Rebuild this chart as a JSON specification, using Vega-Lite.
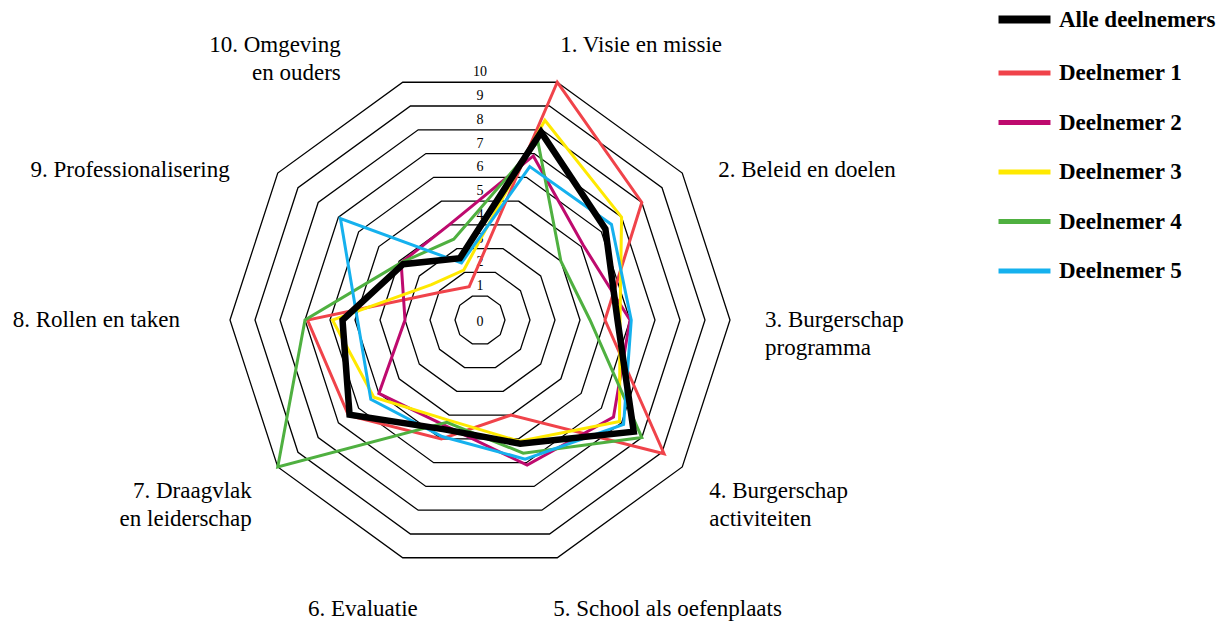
{
  "$schema": "https://vega.github.io/schema/vega-lite/v6.json",
  "width": 1231,
  "height": 625,
  "autosize": {"type": "none"},
  "padding": 0,
  "background": "white",
  "config": {"view": {"stroke": null}, "text": {"font": "Liberation Serif"}},
  "datasets": {
    "scores": [
      {"s": "Alle deelnemers", "k": 1, "v": 7.9}, {"s": "Alle deelnemers", "k": 2, "v": 6.2}, {"s": "Alle deelnemers", "k": 3, "v": 5.5}, {"s": "Alle deelnemers", "k": 4, "v": 7.6}, {"s": "Alle deelnemers", "k": 5, "v": 5.2},
      {"s": "Alle deelnemers", "k": 6, "v": 4.6}, {"s": "Alle deelnemers", "k": 7, "v": 6.45}, {"s": "Alle deelnemers", "k": 8, "v": 5.5}, {"s": "Alle deelnemers", "k": 9, "v": 3.8}, {"s": "Alle deelnemers", "k": 10, "v": 2.6},
      {"s": "Deelnemer 1", "k": 1, "v": 10}, {"s": "Deelnemer 1", "k": 2, "v": 8.0}, {"s": "Deelnemer 1", "k": 3, "v": 5.0}, {"s": "Deelnemer 1", "k": 4, "v": 9.1}, {"s": "Deelnemer 1", "k": 5, "v": 4.0},
      {"s": "Deelnemer 1", "k": 6, "v": 5.0}, {"s": "Deelnemer 1", "k": 7, "v": 6.5}, {"s": "Deelnemer 1", "k": 8, "v": 6.9}, {"s": "Deelnemer 1", "k": 9, "v": 1.9}, {"s": "Deelnemer 1", "k": 10, "v": 1.4},
      {"s": "Deelnemer 2", "k": 1, "v": 6.9}, {"s": "Deelnemer 2", "k": 2, "v": 5.1}, {"s": "Deelnemer 2", "k": 3, "v": 6.0}, {"s": "Deelnemer 2", "k": 4, "v": 6.6}, {"s": "Deelnemer 2", "k": 5, "v": 6.1},
      {"s": "Deelnemer 2", "k": 6, "v": 4.45}, {"s": "Deelnemer 2", "k": 7, "v": 5.0}, {"s": "Deelnemer 2", "k": 8, "v": 3.0}, {"s": "Deelnemer 2", "k": 9, "v": 3.9}, {"s": "Deelnemer 2", "k": 10, "v": 4.0},
      {"s": "Deelnemer 3", "k": 1, "v": 8.4}, {"s": "Deelnemer 3", "k": 2, "v": 7.0}, {"s": "Deelnemer 3", "k": 3, "v": 5.6}, {"s": "Deelnemer 3", "k": 4, "v": 6.9}, {"s": "Deelnemer 3", "k": 5, "v": 5.1},
      {"s": "Deelnemer 3", "k": 6, "v": 4.2}, {"s": "Deelnemer 3", "k": 7, "v": 5.25}, {"s": "Deelnemer 3", "k": 8, "v": 5.9}, {"s": "Deelnemer 3", "k": 9, "v": 2.4}, {"s": "Deelnemer 3", "k": 10, "v": 2.1},
      {"s": "Deelnemer 4", "k": 1, "v": 7.5}, {"s": "Deelnemer 4", "k": 2, "v": 4.0}, {"s": "Deelnemer 4", "k": 3, "v": 4.4}, {"s": "Deelnemer 4", "k": 4, "v": 8.0}, {"s": "Deelnemer 4", "k": 5, "v": 5.6},
      {"s": "Deelnemer 4", "k": 6, "v": 4.3}, {"s": "Deelnemer 4", "k": 7, "v": 10}, {"s": "Deelnemer 4", "k": 8, "v": 7.0}, {"s": "Deelnemer 4", "k": 9, "v": 3.9}, {"s": "Deelnemer 4", "k": 10, "v": 3.4},
      {"s": "Deelnemer 5", "k": 1, "v": 6.45}, {"s": "Deelnemer 5", "k": 2, "v": 6.5}, {"s": "Deelnemer 5", "k": 3, "v": 6.05}, {"s": "Deelnemer 5", "k": 4, "v": 7.1}, {"s": "Deelnemer 5", "k": 5, "v": 5.85},
      {"s": "Deelnemer 5", "k": 6, "v": 4.9}, {"s": "Deelnemer 5", "k": 7, "v": 5.4}, {"s": "Deelnemer 5", "k": 8, "v": 4.9}, {"s": "Deelnemer 5", "k": 9, "v": 6.9}, {"s": "Deelnemer 5", "k": 10, "v": 2.4}
    ],
    "cats": [
      {"k": 1, "label": "1. Visie en missie"},
      {"k": 2, "label": "2. Beleid en doelen"},
      {"k": 3, "label": "3. Burgerschap\nprogramma"},
      {"k": 4, "label": "4. Burgerschap\nactiviteiten"},
      {"k": 5, "label": "5. School als oefenplaats"},
      {"k": 6, "label": "6. Evaluatie"},
      {"k": 7, "label": "7. Draagvlak\nen leiderschap"},
      {"k": 8, "label": "8. Rollen en taken"},
      {"k": 9, "label": "9. Professionalisering"},
      {"k": 10, "label": "10. Omgeving\nen ouders"}
    ],
    "rings": [
      {"ring": 1, "ks": [1, 2, 3, 4, 5, 6, 7, 8, 9, 10]},
      {"ring": 2, "ks": [1, 2, 3, 4, 5, 6, 7, 8, 9, 10]},
      {"ring": 3, "ks": [1, 2, 3, 4, 5, 6, 7, 8, 9, 10]},
      {"ring": 4, "ks": [1, 2, 3, 4, 5, 6, 7, 8, 9, 10]},
      {"ring": 5, "ks": [1, 2, 3, 4, 5, 6, 7, 8, 9, 10]},
      {"ring": 6, "ks": [1, 2, 3, 4, 5, 6, 7, 8, 9, 10]},
      {"ring": 7, "ks": [1, 2, 3, 4, 5, 6, 7, 8, 9, 10]},
      {"ring": 8, "ks": [1, 2, 3, 4, 5, 6, 7, 8, 9, 10]},
      {"ring": 9, "ks": [1, 2, 3, 4, 5, 6, 7, 8, 9, 10]},
      {"ring": 10, "ks": [1, 2, 3, 4, 5, 6, 7, 8, 9, 10]}
    ],
    "levels": [{"v": 0}, {"v": 1}, {"v": 2}, {"v": 3}, {"v": 4}, {"v": 5}, {"v": 6}, {"v": 7}, {"v": 8}, {"v": 9}, {"v": 10}]
  },
  "encoding": {
    "x": {"field": "px", "type": "quantitative", "scale": {"domain": [-19.2, 30.04], "nice": false, "zero": false}, "axis": null},
    "y": {"field": "py", "type": "quantitative", "scale": {"domain": [-12.2, 12.8], "nice": false, "zero": false}, "axis": null}
  },
  "layer": [
    {
      "data": {"name": "rings"},
      "transform": [
        {"flatten": ["ks"], "as": ["k"]},
        {"calculate": "(18 + 36 * (datum.k - 1)) * PI / 180", "as": "a"},
        {"calculate": "datum.ring * sin(datum.a)", "as": "px"},
        {"calculate": "datum.ring * cos(datum.a)", "as": "py"}
      ],
      "mark": {"type": "line", "interpolate": "linear-closed", "color": "#000000", "strokeWidth": 1.3},
      "encoding": {
        "detail": {"field": "ring", "type": "nominal"},
        "order": {"field": "k", "type": "quantitative"}
      }
    },
    {
      "data": {"name": "levels"},
      "transform": [
        {"calculate": "datum.v * cos(PI / 10)", "as": "py"},
        {"calculate": "0", "as": "px"}
      ],
      "encoding": {"text": {"field": "v", "type": "quantitative"}},
      "layer": [
        {"transform": [{"filter": "datum.v > 0"}], "mark": {"type": "text", "baseline": "middle", "align": "center", "dy": -10, "fontSize": 14, "font": "Liberation Serif", "color": "#000000"}},
        {"transform": [{"filter": "datum.v == 0"}], "mark": {"type": "text", "baseline": "middle", "align": "center", "dy": 2, "fontSize": 14, "font": "Liberation Serif", "color": "#000000"}}
      ]
    },
    {
      "data": {"name": "scores"},
      "transform": [
        {"calculate": "(18 + 36 * (datum.k - 1)) * PI / 180", "as": "a"},
        {"calculate": "datum.v * sin(datum.a)", "as": "px"},
        {"calculate": "datum.v * cos(datum.a)", "as": "py"}
      ],
      "encoding": {
        "color": {
          "field": "s", "type": "nominal",
          "scale": {"domain": ["Alle deelnemers", "Deelnemer 1", "Deelnemer 2", "Deelnemer 3", "Deelnemer 4", "Deelnemer 5"], "range": ["#000000", "#F0434A", "#BE0A6E", "#FFE900", "#4FB040", "#15B1EE"]},
          "legend": {
            "title": null, "orient": "none", "legendX": 1013, "legendY": 8,
            "symbolType": "stroke", "symbolSize": 2700, "symbolStrokeWidth": 5,
            "labelFont": "Liberation Serif", "labelFontSize": 23, "labelFontWeight": "bold", "labelColor": "#000000",
            "labelOffset": 23, "rowPadding": 25.5, "labelLimit": 300,
            "encode": {"symbols": {"update": {"strokeWidth": {"signal": "datum.value === 'Alle deelnemers' ? 8 : 5"}}}}
          }
        },
        "order": {"field": "k", "type": "quantitative"}
      },
      "layer": [
        {"transform": [{"filter": "datum.s !== 'Alle deelnemers'"}], "mark": {"type": "line", "interpolate": "linear-closed", "strokeWidth": 3, "strokeJoin": "miter"}},
        {"transform": [{"filter": "datum.s === 'Alle deelnemers'"}], "mark": {"type": "line", "interpolate": "linear-closed", "strokeWidth": 6.5, "strokeJoin": "miter"}}
      ]
    },
    {
      "data": {"name": "cats"},
      "transform": [
        {"calculate": "(18 + 36 * (datum.k - 1)) * PI / 180", "as": "a"},
        {"calculate": "11.68 * sin(datum.a)", "as": "px"},
        {"calculate": "11.68 * cos(datum.a)", "as": "py"}
      ],
      "encoding": {"text": {"field": "label", "type": "nominal"}},
      "layer": [
        {"transform": [{"filter": "datum.k == 1"}], "mark": {"type": "text", "align": "left", "baseline": "middle", "dx": -10, "dy": 3, "fontSize": 23, "font": "Liberation Serif", "lineBreak": "\n", "lineHeight": 28, "color": "#000000"}},
        {"transform": [{"filter": "datum.k == 2"}], "mark": {"type": "text", "align": "left", "baseline": "middle", "dx": 2, "dy": 22, "fontSize": 23, "font": "Liberation Serif", "lineBreak": "\n", "lineHeight": 28, "color": "#000000"}},
        {"transform": [{"filter": "datum.k == 3"}], "mark": {"type": "text", "align": "left", "baseline": "middle", "dx": -7, "dy": 0, "fontSize": 23, "font": "Liberation Serif", "lineBreak": "\n", "lineHeight": 28, "color": "#000000"}},
        {"transform": [{"filter": "datum.k == 4"}], "mark": {"type": "text", "align": "left", "baseline": "middle", "dx": -7, "dy": -1, "fontSize": 23, "font": "Liberation Serif", "lineBreak": "\n", "lineHeight": 28, "color": "#000000"}},
        {"transform": [{"filter": "datum.k == 5"}], "mark": {"type": "text", "align": "left", "baseline": "middle", "dx": -17, "dy": 11, "fontSize": 23, "font": "Liberation Serif", "lineBreak": "\n", "lineHeight": 28, "color": "#000000"}},
        {"transform": [{"filter": "datum.k == 6"}], "mark": {"type": "text", "align": "right", "baseline": "middle", "dx": 28, "dy": 11, "fontSize": 23, "font": "Liberation Serif", "lineBreak": "\n", "lineHeight": 28, "color": "#000000"}},
        {"transform": [{"filter": "datum.k == 7"}], "mark": {"type": "text", "align": "right", "baseline": "middle", "dx": 8, "dy": -1, "fontSize": 23, "font": "Liberation Serif", "lineBreak": "\n", "lineHeight": 28, "color": "#000000"}},
        {"transform": [{"filter": "datum.k == 8"}], "mark": {"type": "text", "align": "right", "baseline": "middle", "dx": -8, "dy": 0, "fontSize": 23, "font": "Liberation Serif", "lineBreak": "\n", "lineHeight": 28, "color": "#000000"}},
        {"transform": [{"filter": "datum.k == 9"}], "mark": {"type": "text", "align": "right", "baseline": "middle", "dx": -14, "dy": 22, "fontSize": 23, "font": "Liberation Serif", "lineBreak": "\n", "lineHeight": 28, "color": "#000000"}},
        {"transform": [{"filter": "datum.k == 10"}], "mark": {"type": "text", "align": "right", "baseline": "middle", "dx": -49, "dy": 3, "fontSize": 23, "font": "Liberation Serif", "lineBreak": "\n", "lineHeight": 28, "color": "#000000"}}
      ]
    }
  ]
}
